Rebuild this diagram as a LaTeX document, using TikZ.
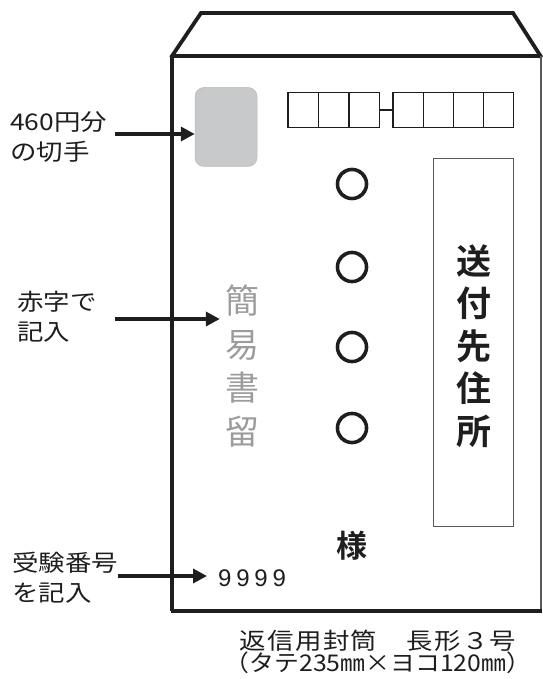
\documentclass[tikz,border=0pt]{standalone}
\usepackage{fontspec}
\usetikzlibrary{arrows.meta}
\newfontfamily\jp[FakeStretch=1.15]{Noto Sans CJK JP}
\newfontfamily\jpplain{Noto Sans CJK JP}
\newfontfamily\jpbold{Noto Sans CJK JP Bold}
\newfontfamily\circfont[FakeBold=6]{Noto Sans CJK JP Bold}
\newfontfamily\capfont[FakeStretch=1.15,LetterSpace=6]{Noto Sans CJK JP}
\newfontfamily\capfontb[FakeStretch=1.08]{Noto Sans CJK JP}
\newfontfamily\numfont[LetterSpace=20]{Liberation Sans}
\definecolor{stampgray}{HTML}{C8C9CB}
\definecolor{lightlbl}{HTML}{9C9C9C}
\definecolor{edge}{HTML}{1E1E1E}
\tikzset{
  envline/.style={line width=3.8pt, draw=edge},
  arr/.style={line width=4.5pt, draw=edge, -{Triangle[length=14pt,width=14pt]}},
  zipbox/.style={draw=edge, line width=1.2pt, minimum width=30.5pt, minimum height=35pt, inner sep=0pt, anchor=north west},
  lbl/.style={align=left, inner sep=0pt, anchor=west, font=\jp\fontsize{23}{30}\selectfont, text=edge},
  circ/.style={inner sep=0pt, font=\circfont\fontsize{34}{34}\selectfont, text=edge}
}
\begin{document}
\begin{tikzpicture}[x=1pt,y=-1pt]
\useasboundingbox (0,0) rectangle (542,679);
% envelope
\coordinate (tl) at (172,56);
\coordinate (tr) at (541,56);
\coordinate (bl) at (172,611);
\coordinate (br) at (542,611);
\coordinate (f1) at (201,13);
\coordinate (f2) at (513,13);
\draw[envline, line join=miter] (171,57.5) -- (f1) -- (f2) -- (541.5,57.5);
\draw[envline] (170.5,56) -- (tr);
\draw[envline] (tl) -- (bl);
\draw[envline] (170.5,611) -- (br);
\draw[line width=1.4pt, draw=gray!70!black] (tr) -- (541,609);
% stamp
\node[draw=stampgray!80!gray, line width=0.5pt, fill=stampgray, rounded corners=9pt, minimum width=62pt, minimum height=79pt, inner sep=0pt] (stamp) at (226,127) {};
% zip boxes
\node[zipbox] (z1) at (287.3,92) {};
\node[zipbox] (z2) at (317.8,92) {};
\node[zipbox] (z3) at (348.3,92) {};
\node[zipbox] (z4) at (392.3,92) {};
\node[zipbox] (z5) at (422.5,92) {};
\node[zipbox] (z6) at (452.7,92) {};
\node[zipbox, minimum width=30pt] (z7) at (483,92) {};
\draw[draw=edge, line width=1.2pt] (z3.east) -- (z4.west);
% address box
\node[draw=gray!70!black, line width=1pt, minimum width=80pt, minimum height=367pt, inner sep=0pt] (addr) at (473,342.5) {};
\node[align=center, inner sep=0pt, font=\jpbold\fontsize{35}{42.5}\selectfont, text=edge] (dest) at (474,346) {送\\付\\先\\住\\所};
% circles
\node[circ] (c1) at (352,184) {○};
\node[circ] (c2) at (352,267) {○};
\node[circ] (c3) at (352,347) {○};
\node[circ] (c4) at (352,428) {○};
\node[inner sep=0pt, font=\jpbold\fontsize{31}{31}\selectfont, text=edge] (sama) at (352,546) {様};
% kani kakitome
\node[align=center, inner sep=0pt, font=\jpplain\fontsize{34}{43.5}\selectfont, text=lightlbl] (kani) at (242,366) {簡\\易\\書\\留};
% 9999
\node[inner sep=0pt, anchor=west, font=\numfont\fontsize{24}{24}\selectfont, text=edge] (num) at (218,578) {9999};
% labels
\node[lbl] (lab1) at (10,137) {460円分\\の切手};
\node[lbl] (lab2) at (17,317) {赤字で\\記入};
\node[lbl] (lab3) at (12,578) {受験番号\\を記入};
\coordinate (a1) at (115,134);
\coordinate (a2) at (115,319);
\coordinate (a3) at (118,576);
\draw[arr] (a1) -- (a1 -| stamp.west);
\draw[arr] (a2) -- ([xshift=-5pt]a2 -| kani.west);
\draw[arr] (a3) -- ([xshift=-11pt]a3 -| num.west);
% caption
\node[align=center, inner sep=0pt, text=edge] (cap) at (378,652) {{\capfont\fontsize{23}{23}\selectfont 返信用封筒　長形３号}\\{\capfontb\fontsize{23}{23}\selectfont （タテ235㎜×ヨコ120㎜）}};
\end{tikzpicture}
\end{document}
